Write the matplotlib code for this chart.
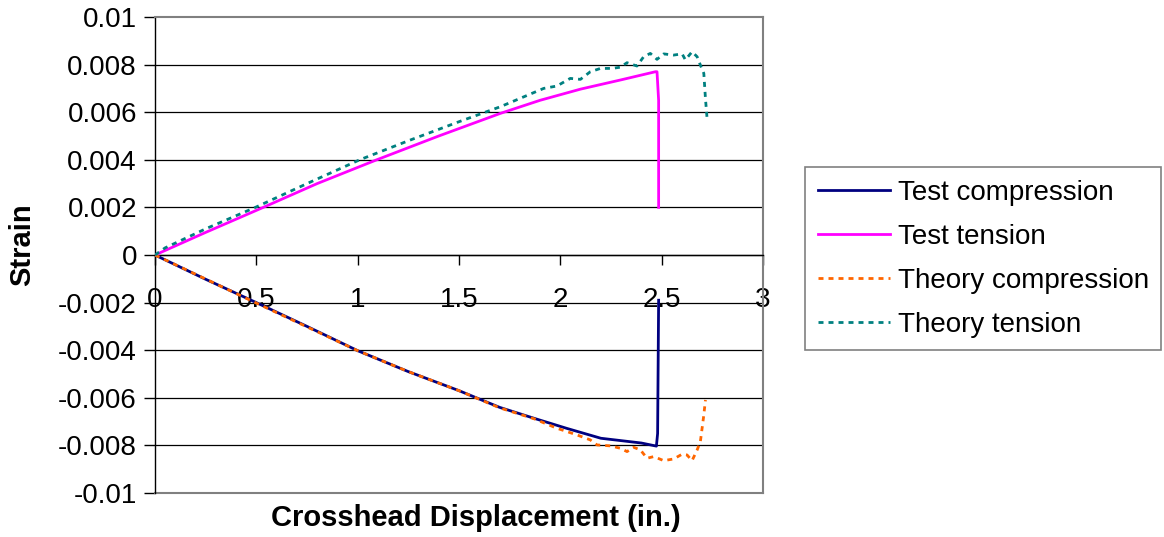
import numpy as np
import matplotlib as mpl
import matplotlib.pyplot as plt
from matplotlib.ticker import FixedLocator, FuncFormatter

mpl.rcParams['font.family'] = ['Liberation Sans', 'DejaVu Sans']

# displacement (in.) vs strain for each gauge
test_comp_x = [0, 0.25, 0.5, 0.75, 1.0, 1.25, 1.5, 1.7, 1.87, 2.03, 2.2, 2.4,
               2.474, 2.48, 2.485]
test_comp_y = [0, -0.00102, -0.002, -0.003, -0.00402, -0.0049, -0.0057, -0.0064,
               -0.00686, -0.00728, -0.0077, -0.0079, -0.00803, -0.0075, -0.0019]

test_tens_x = [0, 0.25, 0.534, 0.8, 1.094, 1.4, 1.704, 1.9, 2.1, 2.3,
               2.469, 2.477, 2.485, 2.485]
test_tens_y = [0, 0.00095, 0.002, 0.003, 0.004, 0.005, 0.00595, 0.0065,
               0.00697, 0.00736, 0.0077, 0.0077, 0.0065, 0.002]

theory_comp_x = [0, 0.25, 0.5, 0.75, 1.0, 1.25, 1.5, 1.7, 1.87, 1.983, 2.033,
                 2.082, 2.148, 2.181, 2.247, 2.296, 2.329, 2.362, 2.395, 2.428,
                 2.461, 2.51, 2.559, 2.601, 2.625, 2.65, 2.675, 2.691, 2.708,
                 2.716]
theory_comp_y = [0, -0.00101, -0.00202, -0.00302, -0.00402, -0.0049, -0.0057,
                 -0.00642, -0.00688, -0.00728, -0.00742, -0.00756, -0.00777,
                 -0.00798, -0.00802, -0.00812, -0.00826, -0.00808, -0.00819,
                 -0.00854, -0.00847, -0.00864, -0.00857, -0.00837, -0.0084,
                 -0.00864, -0.00819, -0.00784, -0.00672, -0.00609]

theory_tens_x = [0, 0.05, 0.25, 0.495, 0.75, 1.01, 1.25, 1.5, 1.704, 1.918,
                 1.983, 2.049, 2.099, 2.148, 2.198, 2.255, 2.296, 2.329, 2.378,
                 2.411, 2.444, 2.477, 2.51, 2.559, 2.601, 2.617, 2.65, 2.675,
                 2.691, 2.708, 2.716, 2.724]
theory_tens_y = [0, 0.0003, 0.0011, 0.002, 0.003, 0.004, 0.0048, 0.0056,
                 0.00623, 0.007, 0.0071, 0.00742, 0.00738, 0.0077, 0.00784,
                 0.00784, 0.00789, 0.00808, 0.00794, 0.00833, 0.00847, 0.00822,
                 0.00845, 0.0084, 0.00845, 0.0082, 0.00854, 0.00833, 0.00798,
                 0.00763, 0.00658, 0.00574]

x_ticks = [0, 0.5, 1, 1.5, 2, 2.5, 3]
x_labels = ['0', '0.5', '1', '1.5', '2', '2.5', '3']
y_ticks = [-0.01, -0.008, -0.006, -0.004, -0.002, 0, 0.002, 0.004, 0.006,
           0.008, 0.01]

fig = plt.figure(figsize=(11.64, 5.37), dpi=100)
ax = fig.add_axes([155/1164, 1 - 493/537, 608/1164, 476/537])
ax.set_xlim(0, 3)
ax.set_ylim(-0.01, 0.01)

# interior gridlines
for yv in y_ticks[1:-1]:
    ax.axhline(yv, color='black', lw=0.9, zorder=1)

dots = (0, (1.8, 1.8))
ax.plot(test_comp_x, test_comp_y, color='#000080', lw=2, label='Test compression', zorder=3)
ax.plot(test_tens_x, test_tens_y, color='#FF00FF', lw=2, label='Test tension', zorder=3)
ax.plot(theory_comp_x, theory_comp_y, color='#FF6600', lw=2, ls=dots,
        label='Theory compression', zorder=4)
ax.plot(theory_tens_x, theory_tens_y, color='#008080', lw=2, ls=dots,
        label='Theory tension', zorder=4)

# x axis sits at zero strain
ax.spines['bottom'].set_position(('data', 0))
ax.spines['bottom'].set_color('black')
ax.spines['bottom'].set_linewidth(1.0)
ax.spines['left'].set_color('black')
ax.spines['left'].set_linewidth(1.0)
for s in ('top', 'right'):
    ax.spines[s].set_color('#808080')
    ax.spines[s].set_linewidth(1.5)
ax.axhline(-0.01, color='#808080', lw=1.5, clip_on=False, zorder=2)

ax.xaxis.set_major_locator(FixedLocator(x_ticks))
ax.set_xticklabels(x_labels)
ax.yaxis.set_major_locator(FixedLocator(y_ticks))
ax.yaxis.set_major_formatter(FuncFormatter(lambda v, p: '%g' % round(v, 4)))
ax.tick_params(axis='x', direction='out', length=7, width=1, pad=16, labelsize=20)
ax.tick_params(axis='y', direction='out', length=8, width=1, pad=5, labelsize=20)

fig.text(476/1164, 1 - 518/537, 'Crosshead Displacement (in.)', ha='center',
         va='center', fontsize=21, fontweight='bold')
fig.text(22/1164, 1 - 245/537, 'Strain', ha='center', va='center',
         rotation=90, fontsize=21, fontweight='bold')

leg = ax.legend(loc='upper left', bbox_to_anchor=(805/1164, 1 - 167/537),
                bbox_transform=fig.transFigure, fontsize=20, frameon=True,
                fancybox=False, edgecolor='#606060', handlelength=2.6,
                handletextpad=0.29, borderpad=0.45, labelspacing=0.65,
                borderaxespad=0)
leg.get_frame().set_linewidth(1.2)

fig.savefig('out.png', dpi=100)
